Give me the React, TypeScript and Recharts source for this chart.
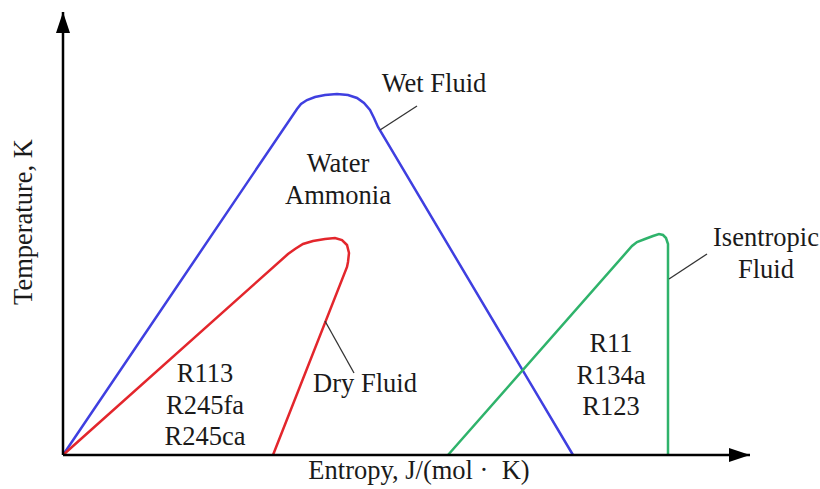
import React from 'react';
import {
  ComposedChart,
  Line,
  XAxis,
  YAxis,
  ReferenceDot,
} from 'recharts';

// T-s diagram sketch, values in arbitrary units (entropy, temperature)
const wetFluid = [
  { x: 0, y: 0 }, { x: 234, y: 346 }, { x: 238, y: 351 }, { x: 244, y: 355 },
  { x: 252, y: 358 }, { x: 262, y: 360 }, { x: 274, y: 361 }, { x: 285, y: 360 },
  { x: 294, y: 357 }, { x: 301, y: 352 }, { x: 307, y: 345 }, { x: 311, y: 337 },
  { x: 315, y: 328 }, { x: 510, y: 0 },
];
const dryFluid = [
  { x: 0, y: 0 }, { x: 225, y: 201 }, { x: 232, y: 206 }, { x: 240, y: 211 },
  { x: 250, y: 214 }, { x: 262, y: 216 }, { x: 272, y: 217 }, { x: 279, y: 215 },
  { x: 284, y: 210 }, { x: 286, y: 202 }, { x: 285, y: 193 }, { x: 284, y: 188 },
  { x: 210, y: 0 },
];
const isentropicFluid = [
  { x: 385, y: 0 }, { x: 569, y: 209 }, { x: 574, y: 213 }, { x: 582, y: 216 },
  { x: 590, y: 219 }, { x: 596, y: 221 }, { x: 600, y: 220 }, { x: 603, y: 217 },
  { x: 605, y: 211 }, { x: 605, y: 0 },
];

// leader lines from curve to its caption
const wetLeader = [{ x: 317, y: 325 }, { x: 354, y: 349 }];
const dryLeader = [{ x: 262, y: 134 }, { x: 291, y: 82 }];
const isoLeader = [{ x: 606, y: 176 }, { x: 644, y: 201 }];

const xDomain = [0, 687];
const yDomain = [0, 443];

const captions = [
  { x: 371, y: 363, lines: ['Wet Fluid'] },
  { x: 275, y: 283, lines: ['Water', 'Ammonia'] },
  { x: 302, y: 63, lines: ['Dry Fluid'] },
  { x: 142, y: 73, lines: ['R113', 'R245fa', 'R245ca'] },
  { x: 548, y: 103, lines: ['R11', 'R134a', 'R123'] },
  { x: 703, y: 209, lines: ['Isentropic', 'Fluid'] },
];

const xTitle = 'Entropy, J/(mol\u00a0\u00b7\u00a0\u00a0K)';
const yTitle = 'Temperature, K';

const FONT = '"Liberation Serif", "Times New Roman", serif';
const FONT_SIZE = 26.5;
const LINE_GAP = 31.5;

const BLUE = '#3f3fe0';
const RED = '#e3262c';
const GREEN = '#2fb36b';

const captionShape = (lines: string[]) => (p: any) => (
  <text
    x={p.cx}
    y={p.cy}
    textAnchor="middle"
    fontFamily={FONT}
    fontSize={FONT_SIZE}
    fill="#1a1a1a"
  >
    {lines.map((l, i) => (
      <tspan key={l} x={p.cx} dy={i === 0 ? 0 : LINE_GAP}>{l}</tspan>
    ))}
  </text>
);

const arrowRight = (p: any) => (
  <polygon
    points={`${p.cx},${p.cy} ${p.cx - 21},${p.cy - 7} ${p.cx - 21},${p.cy + 7}`}
    fill="#000"
  />
);

const arrowUp = (p: any) => (
  <polygon
    points={`${p.cx},${p.cy} ${p.cx - 7},${p.cy + 21} ${p.cx + 7},${p.cy + 21}`}
    fill="#000"
  />
);

export default function App() {
  return (
    <div style={{ position: 'absolute', left: 0, top: 0, width: 820, height: 489, background: '#fff' }}>
      <ComposedChart width={820} height={489} margin={{ top: 12, right: 70, bottom: 0, left: 0 }}>
        <XAxis
          dataKey="x"
          type="number"
          domain={xDomain}
          tick={false}
          tickLine={false}
          height={34}
          axisLine={{ stroke: '#000', strokeWidth: 2.5 }}
        />
        <YAxis
          dataKey="y"
          type="number"
          domain={yDomain}
          tick={false}
          tickLine={false}
          width={63}
          axisLine={{ stroke: '#000', strokeWidth: 2.5 }}
        />

        <Line data={wetFluid} dataKey="y" type="linear" stroke={BLUE} strokeWidth={2.5} dot={false} activeDot={false} isAnimationActive={false} />
        <Line data={dryFluid} dataKey="y" type="linear" stroke={RED} strokeWidth={2.5} dot={false} activeDot={false} isAnimationActive={false} />
        <Line data={isentropicFluid} dataKey="y" type="linear" stroke={GREEN} strokeWidth={2.5} dot={false} activeDot={false} isAnimationActive={false} />

        <Line data={wetLeader} dataKey="y" type="linear" stroke="#333" strokeWidth={1.3} dot={false} activeDot={false} isAnimationActive={false} />
        <Line data={dryLeader} dataKey="y" type="linear" stroke="#333" strokeWidth={1.3} dot={false} activeDot={false} isAnimationActive={false} />
        <Line data={isoLeader} dataKey="y" type="linear" stroke="#333" strokeWidth={1.3} dot={false} activeDot={false} isAnimationActive={false} />

        <ReferenceDot x={xDomain[1]} y={0} ifOverflow="visible" shape={arrowRight} />
        <ReferenceDot x={0} y={yDomain[1]} ifOverflow="visible" shape={arrowUp} />

        {captions.map((c) => (
          <ReferenceDot key={c.lines[0]} x={c.x} y={c.y} ifOverflow="visible" shape={captionShape(c.lines)} />
        ))}

        <ReferenceDot x={356} y={-24} ifOverflow="visible" shape={captionShape([xTitle])} />
        <ReferenceDot
          x={-31}
          y={233}
          ifOverflow="visible"
          shape={(p: any) => (
            <text
              x={p.cx}
              y={p.cy}
              transform={`rotate(-90, ${p.cx}, ${p.cy})`}
              textAnchor="middle"
              fontFamily={FONT}
              fontSize={FONT_SIZE}
              fill="#1a1a1a"
            >
              {yTitle}
            </text>
          )}
        />
      </ComposedChart>
    </div>
  );
}
